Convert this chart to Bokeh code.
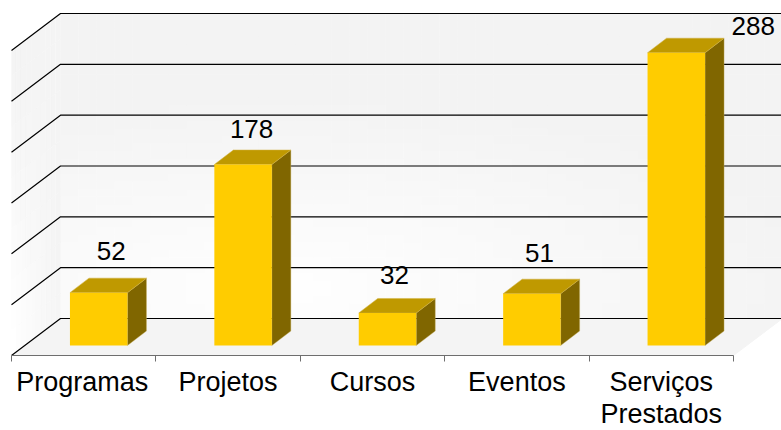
import numpy as np
from bokeh.plotting import figure
from bokeh.models import FixedTicker, ColumnDataSource
from bokeh.core.properties import value
from bokeh.embed import file_html
from bokeh.resources import INLINE

categories = ["Programas", "Projetos", "Cursos", "Eventos", "Serviços\nPrestados"]
values = [52, 178, 32, 51, 288]
grid_ticks = [0, 50, 100, 150, 200, 250, 300]
FONT = "Liberation Sans"

W, H, AXIS_Y, X0, CAT_PX, UNIT_PX = 781, 430, 355, 11, 144.4, 1.0167
px_x = 1 / CAT_PX
px_y = 1 / UNIT_PX
DX, DY = 49 * px_x, 37 * px_y           # wall depth
BAR_W = 57.5 * px_x
BAR_SHIFT_X, BAR_SHIFT_Y = 15 * px_x, 10 * px_y   # bar front face inside floor
BAR_DX, BAR_DY = 19 * px_x, 14.5 * px_y  # bar depth

p = figure(width=W, height=H, frame_width=W, frame_height=AXIS_Y,
           x_range=(-X0 * px_x, (W - X0) * px_x), y_range=(0, AXIS_Y * px_y),
           output_backend="svg", toolbar_location=None, min_border=0,
           outline_line_color=None, background_fill_color="white",
           border_fill_color="white")
p.yaxis.visible = False
p.xgrid.visible = False
p.ygrid.visible = False

# back wall shading
n = 40
wx = np.linspace(DX, 5 + DX, n + 1)
wy = np.linspace(DY, 300 + DY, n + 1)
xs, ys = np.meshgrid((wx[:-1] + wx[1:]) / 2, (wy[:-1] + wy[1:]) / 2)
u = (xs - DX) / 5
v = (ys - DY) / 300
d = np.hypot((u - 0.3) * 0.9, (v - 0.1) * 1.1)
c = np.clip(255 - 15 * d / 0.9, 243, 255).astype(int)
p.quad(left=(xs - 5 / n / 2 - 1e-3).ravel(), right=(xs + 5 / n / 2 + 1e-3).ravel(),
       bottom=(ys - 150 / n - 0.3).ravel(), top=(ys + 150 / n + 0.3).ravel(),
       fill_color=[f"#{g:02x}{g:02x}{g:02x}" for g in c.ravel()], line_color=None)

# left wall strips
m = 10
for i in range(m):
    f0, f1 = i / m, (i + 1) / m
    for j in range(12):
        b0, b1 = 300 * j / 12, 300 * (j + 1) / 12
        g = 244 + (1 - j / 11) * (1 - f0) * 11
        g = int(np.clip(g, 238, 255))
        col = f"#{g:02x}{g:02x}{g:02x}"
        p.patch([f0 * DX, f1 * DX, f1 * DX, f0 * DX],
                [b0 + f0 * DY, b0 + f1 * DY, b1 + f1 * DY, b1 + f0 * DY],
                fill_color=col, line_color=col, line_width=0.3)

# floor
p.patch([0, DX, 5 + DX, 5], [0, DY, DY, 0], fill_color="#f4f4f4", line_color=None)

# gridlines
grid_end = (W - X0) * px_x
for t in grid_ticks:
    p.line([0, DX, grid_end], [t, t + DY, t + DY], line_color="#000000", line_width=1.2)
p.line([5, 5 + DX], [0, DY], line_color="#f4f4f4", line_width=1)

# bars
for i, val in enumerate(values):
    c0 = i + 0.5 + BAR_SHIFT_X
    l, r = c0 - BAR_W / 2, c0 + BAR_W / 2
    b, t = BAR_SHIFT_Y, BAR_SHIFT_Y + val
    p.patch([r, r + BAR_DX, r + BAR_DX, r], [b, b + BAR_DY, t + BAR_DY, t],
            fill_color="#806600", line_color="#c8b060", line_width=0.4)
    p.patch([l, r, r + BAR_DX, l + BAR_DX], [t, t, t + BAR_DY, t + BAR_DY],
            fill_color="#bf9900", line_color="#d0b040", line_width=0.5)
    p.quad(left=l, right=r, bottom=b, top=t, fill_color="#ffcc00", line_color=None)

# value labels
label_dx = [12.5, 8.5, 7, 7.5, 77]
label_dy = [42, 36, 37.5, 41, 26.5]
tx = [i + 0.5 + BAR_SHIFT_X for i in range(5)]
ty = [BAR_SHIFT_Y + v_ for v_ in values]
src = ColumnDataSource(dict(x=tx, y=ty, text=[str(v_) for v_ in values],
                            xo=label_dx, yo=[-d_ for d_ in label_dy]))
p.text("x", "y", text="text", source=src, x_offset="xo", y_offset="yo",
       text_font=value(FONT), text_font_size="26px", text_color="#000000",
       text_align="center", text_baseline="alphabetic")

# category axis
tick_pos = [i + 0.5 - (1.5 * px_x if i == 0 else 0) for i in range(5)]
ax = p.xaxis[0]
ax.ticker = FixedTicker(ticks=tick_pos, minor_ticks=list(range(6)))
ax.major_label_overrides = {t_: c_ for t_, c_ in zip(tick_pos, categories)}
ax.bounds = (0, 5)
ax.axis_line_color = "#6e6e6e"
ax.major_tick_line_color = None
ax.minor_tick_line_color = "#6e6e6e"
ax.minor_tick_out = 6
ax.minor_tick_in = 0
ax.major_label_text_font = FONT
ax.major_label_text_font_size = "27px"
ax.major_label_text_color = "#000000"
ax.major_label_standoff = 5
ax.major_label_text_line_height = 1.08

open("out.html", "w").write(file_html(p, INLINE))
